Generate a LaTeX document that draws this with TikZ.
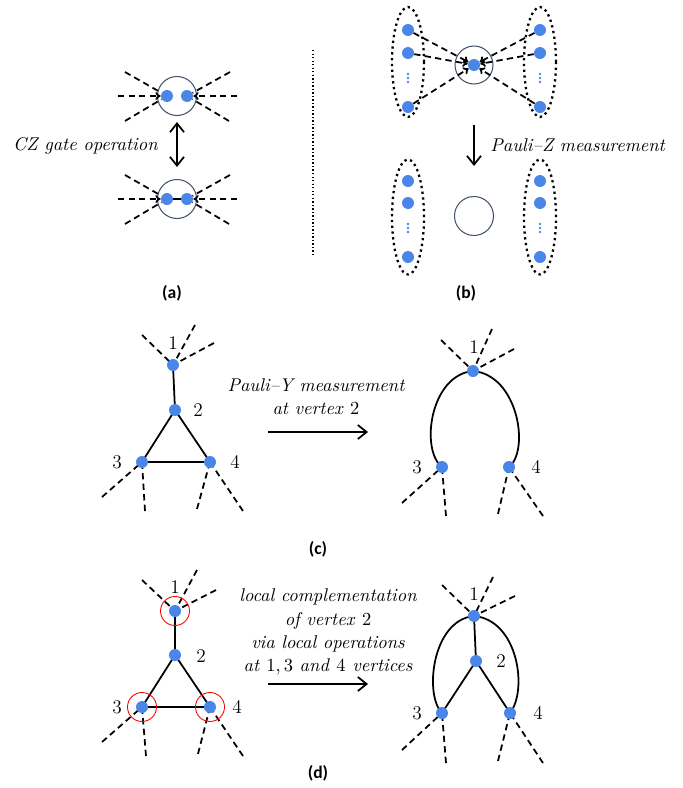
\documentclass[tikz,border=0pt]{standalone}
\usepackage{fontspec}
\newfontfamily\capfont{Carlito}
\usetikzlibrary{arrows.meta}
\definecolor{dotblue}{HTML}{4A86E8}
\definecolor{ringcol}{HTML}{44546A}
\pgfdeclarelayer{bg}
\pgfsetlayers{bg,main}
\begin{document}
\begin{tikzpicture}[x=0.02cm,y=-0.02cm,
 dot/.style={circle,fill=dotblue,inner sep=0,minimum size=0.24cm},
 bdot/.style={circle,fill=dotblue,inner sep=0,minimum size=0.24cm},
 ring/.style={circle,draw=ringcol,line width=0.6pt,inner sep=0,minimum size=0.78cm},
 redring/.style={circle,draw=red,line width=0.5pt,inner sep=0,minimum size=0.58cm},
 dsh/.style={line width=1pt,dash pattern=on 3.6pt off 2.4pt},
 dsharr/.style={dsh,-{To[length=3pt,width=4.5pt]}},
 edgeline/.style={line width=1pt},
 num/.style={font=\fontsize{11}{13}\selectfont},
 txt/.style={font=\fontsize{10.5}{13.2}\selectfont\itshape},
 captxt/.style={font=\capfont\bfseries\fontsize{10}{12}\selectfont},
 ellip/.style={dotted,line width=1.3pt},
 bigarr/.style={line width=1pt,-{Straight Barb[length=5pt,width=8pt]}},
 vd/.style={fill=dotblue,circle,inner sep=0,minimum size=1.6pt}
]
\useasboundingbox (0,0) rectangle (683,788);

% ---------------- panel (a)
\node[ring] (ra) at (177,96) {};
\node[dot] (a1) at (167,96) {};
\node[dot] (a2) at (187,96) {};
\coordinate (aL1) at (125,72); \coordinate (aL2) at (118,96); \coordinate (aL3) at (125,121);
\coordinate (aR1) at (230,72); \coordinate (aR2) at (237,96); \coordinate (aR3) at (229,121);
\draw[dsh] (aL1) -- (a1); \draw[dsharr] (aL2) -- (a1); \draw[dsh] (aL3) -- (a1);
\draw[dsh] (aR1) -- (a2); \draw[dsharr] (aR2) -- (a2); \draw[dsh] (aR3) -- (a2);

\node[ring] (rb) at (177,199) {};
\node[dot] (b1) at (167,199) {};
\node[dot] (b2) at (187,199) {};
\draw[edgeline] (b1) -- (b2);
\coordinate (bL1) at (125,175); \coordinate (bL2) at (118,199); \coordinate (bL3) at (125,224);
\coordinate (bR1) at (230,175); \coordinate (bR2) at (237,199); \coordinate (bR3) at (229,224);
\draw[dsh] (bL1) -- (b1); \draw[dsharr] (bL2) -- (b1); \draw[dsh] (bL3) -- (b1);
\draw[dsh] (bR1) -- (b2); \draw[dsharr] (bR2) -- (b2); \draw[dsh] (bR3) -- (b2);

\coordinate (czt) at (177,122); \coordinate (czb) at (177,167);
\draw[line width=1pt,{Straight Barb[length=5pt,width=8pt]}-{Straight Barb[length=5pt,width=8pt]}] (czt) -- (czb);
\node[txt,anchor=east,inner sep=0] (czl) at (158,146) {CZ gate operation};

% separator
\coordinate (sepT) at (313,50); \coordinate (sepB) at (313,256);
\draw[line width=0.7pt,dash pattern=on 0.8pt off 1.2pt] (sepT) -- (sepB);

% ---------------- panel (b)
\draw[ellip] (408,62) ellipse [x radius=0.32cm, y radius=1.1cm];
\draw[ellip] (540,62) ellipse [x radius=0.32cm, y radius=1.1cm];
\node[ring,minimum size=0.76cm] (rc) at (474,65) {};
\node[bdot] (pc) at (474,65) {};
\node[bdot] (pl1) at (408,30) {};
\node[bdot] (pl2) at (408,53) {};
\node[bdot] (pl3) at (408,107) {};
\node[bdot] (pr1) at (540,30) {};
\node[bdot] (pr2) at (540,53) {};
\node[bdot] (pr3) at (540,107) {};
\foreach \yy in {74,78,82} {\node[vd] at (408,\yy) {}; \node[vd] at (540,\yy) {};}
\foreach \n in {pl1,pl2,pl3,pr1,pr2,pr3} {\draw[dsharr] (\n) -- (pc);}

\coordinate (pzt) at (474,125); \coordinate (pzb) at (474,166);
\draw[bigarr] (pzt) -- (pzb);
\node[txt,anchor=west,inner sep=0] (pzl) at (490,145) {Pauli--Z measurement};

\draw[ellip] (408,217) ellipse [x radius=0.32cm, y radius=1.15cm];
\draw[ellip] (540,217) ellipse [x radius=0.32cm, y radius=1.15cm];
\node[ring] (rd) at (474,216) {};
\node[bdot] (ql1) at (408,181) {};
\node[bdot] (ql2) at (408,203) {};
\node[bdot] (ql3) at (408,257) {};
\node[bdot] (qr1) at (540,181) {};
\node[bdot] (qr2) at (540,203) {};
\node[bdot] (qr3) at (540,257) {};
\foreach \yy in {224,228,232} {\node[vd] at (408,\yy) {}; \node[vd] at (540,\yy) {};}

\node[captxt] (capa) at (172,293) {(a)};
\node[captxt] (capb) at (466,293) {(b)};

% ---------------- panel (c)
\node[bdot] (c1) at (173,365) {};
\node[bdot] (c2) at (175,410) {};
\node[bdot] (c3) at (142,462) {};
\node[bdot] (c4) at (210,462) {};
\node[num] at (173,343) {1};
\node[num] at (198,410) {2};
\node[num] at (117,462) {3};
\node[num] at (235,462) {4};
\coordinate (c1a) at (142,335); \coordinate (c1b) at (195,325); \coordinate (c1c) at (214,343);
\coordinate (c3a) at (102,497); \coordinate (c3b) at (145,511);
\coordinate (c4a) at (197,509); \coordinate (c4b) at (243,511);
\begin{pgfonlayer}{bg}
\draw[edgeline] (c1.center) -- (c2.center) -- (c3.center) -- (c4.center) -- (c2.center);
\draw[dsh] (c1a) -- (c1.center); \draw[dsh] (c1b) -- (c1.center); \draw[dsh] (c1c) -- (c1.center);
\draw[dsh] (c3a) -- (c3.center); \draw[dsh] (c3b) -- (c3.center);
\draw[dsh] (c4a) -- (c4.center); \draw[dsh] (c4b) -- (c4.center);
\end{pgfonlayer}

\node[txt,align=center] (ytxt) at (316,397) {Pauli--Y measurement\\at vertex \textup{2}};
\coordinate (yA) at (268,432); \coordinate (yB) at (368,432);
\draw[bigarr] (yA) -- (yB);

\node[bdot] (e1) at (473,371) {};
\node[bdot] (e3) at (442,467) {};
\node[bdot] (e4) at (509,467) {};
\node[num] at (474,347) {1};
\node[num] at (417,467) {3};
\node[num] at (536,467) {4};
\coordinate (e1a) at (441,340); \coordinate (e1b) at (492,329); \coordinate (e1c) at (514,349);
\coordinate (e3a) at (402,503); \coordinate (e3b) at (446,516);
\coordinate (e4a) at (498,514); \coordinate (e4b) at (543,516);
\begin{pgfonlayer}{bg}
\draw[edgeline] (e1.center) .. controls (430,375) and (420,450) .. (e3.center);
\draw[edgeline] (e1.center) .. controls (518,375) and (530,450) .. (e4.center);
\draw[dsh] (e1a) -- (e1.center); \draw[dsh] (e1b) -- (e1.center); \draw[dsh] (e1c) -- (e1.center);
\draw[dsh] (e3a) -- (e3.center); \draw[dsh] (e3b) -- (e3.center);
\draw[dsh] (e4a) -- (e4.center); \draw[dsh] (e4b) -- (e4.center);
\end{pgfonlayer}

\node[captxt] (capc) at (318,549) {(c)};

% ---------------- panel (d)
\node[bdot] (d1) at (175,611) {};
\node[bdot] (d2) at (175,655) {};
\node[bdot] (d3) at (142,707) {};
\node[bdot] (d4) at (210,707) {};
\node[redring] (rr1) at (175,611) {};
\node[redring] (rr3) at (142,707) {};
\node[redring] (rr4) at (210,707) {};
\node[num] at (175,587) {1};
\node[num] at (201,656) {2};
\node[num] at (117,707) {3};
\node[num] at (237,707) {4};
\coordinate (d1a) at (142,580); \coordinate (d1b) at (197,570); \coordinate (d1c) at (216,590);
\coordinate (d3a) at (102,742); \coordinate (d3b) at (146,756);
\coordinate (d4a) at (198,754); \coordinate (d4b) at (243,756);
\begin{pgfonlayer}{bg}
\draw[edgeline] (d1.center) -- (d2.center) -- (d3.center) -- (d4.center) -- (d2.center);
\draw[dsh] (d1a) -- (d1.center); \draw[dsh] (d1b) -- (d1.center); \draw[dsh] (d1c) -- (d1.center);
\draw[dsh] (d3a) -- (d3.center); \draw[dsh] (d3b) -- (d3.center);
\draw[dsh] (d4a) -- (d4.center); \draw[dsh] (d4b) -- (d4.center);
\end{pgfonlayer}

\node[txt,align=center] (lctxt) at (328,632) {local complementation\\of vertex \textup{2}\\via local operations\\at \textup{1,\,3} and \textup{4} vertices};
\coordinate (lA) at (268,684); \coordinate (lB) at (368,684);
\draw[bigarr] (lA) -- (lB);

\node[bdot] (f1) at (474,616) {};
\node[bdot] (f2) at (476,661) {};
\node[bdot] (f3) at (442,713) {};
\node[bdot] (f4) at (510,713) {};
\node[num] at (474,594) {1};
\node[num] at (501,661) {2};
\node[num] at (417,713) {3};
\node[num] at (538,713) {4};
\coordinate (f1a) at (442,585); \coordinate (f1b) at (493,577); \coordinate (f1c) at (515,596);
\coordinate (f3a) at (402,750); \coordinate (f3b) at (446,763);
\coordinate (f4a) at (498,761); \coordinate (f4b) at (543,763);
\begin{pgfonlayer}{bg}
\draw[edgeline] (f1.center) -- (f2.center) -- (f3.center);
\draw[edgeline] (f2.center) -- (f4.center);
\draw[edgeline] (f1.center) .. controls (432,620) and (424,695) .. (f3.center);
\draw[edgeline] (f1.center) .. controls (518,620) and (528,690) .. (f4.center);
\draw[dsh] (f1a) -- (f1.center); \draw[dsh] (f1b) -- (f1.center); \draw[dsh] (f1c) -- (f1.center);
\draw[dsh] (f3a) -- (f3.center); \draw[dsh] (f3b) -- (f3.center);
\draw[dsh] (f4a) -- (f4.center); \draw[dsh] (f4b) -- (f4.center);
\end{pgfonlayer}

\node[captxt] (capd) at (318,773) {(d)};
\end{tikzpicture}
\end{document}
